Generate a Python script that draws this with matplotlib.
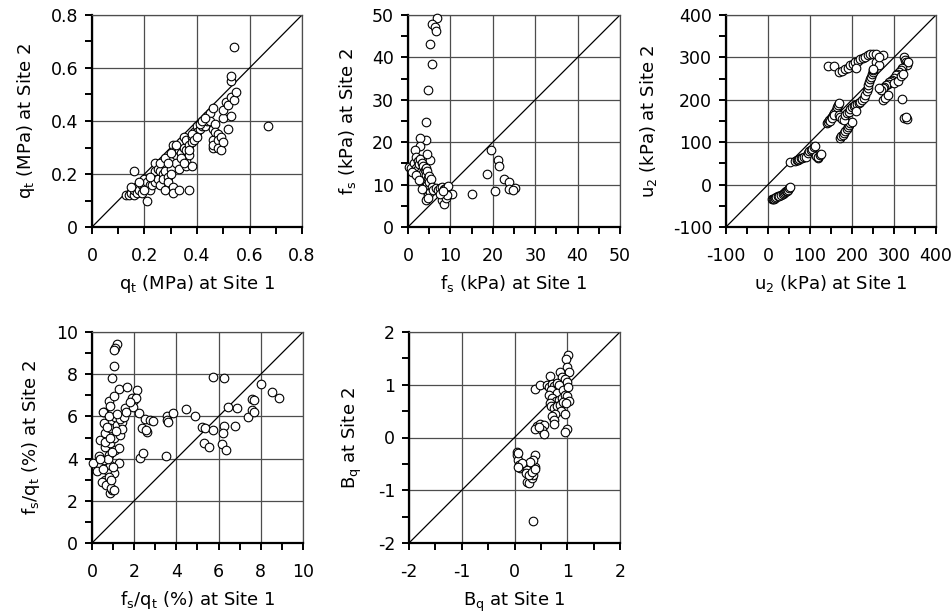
import matplotlib
matplotlib.use("Agg")
import matplotlib.pyplot as plt
from matplotlib.ticker import MultipleLocator
import numpy as np

plt.rcParams['font.family'] = ['DejaVu Sans']
plt.rcParams['mathtext.fontset'] = 'dejavusans'

# ---------------- data ----------------
qt_site1 = [0.13,0.14,0.15,0.16,0.16,0.17,0.17,0.18,0.19,0.19,0.20,0.20,0.21,0.21,0.22,0.22,0.23,0.23,0.24,0.24,0.24,0.25,0.25,0.26,0.26,0.27,0.27,0.28,0.28,0.29,0.29,0.30,0.30,0.30,0.31,0.31,0.31,0.31,0.32,0.32,0.32,0.33,0.33,0.33,0.34,0.34,0.35,0.35,0.35,0.36,0.36,0.36,0.36,0.37,0.37,0.37,0.38,0.38,0.38,0.39,0.39,0.40,0.40,0.41,0.42,0.43,0.44,0.44,0.45,0.45,0.46,0.46,0.46,0.46,0.46,0.47,0.47,0.48,0.48,0.48,0.49,0.49,0.50,0.50,0.50,0.51,0.52,0.52,0.53,0.53,0.53,0.53,0.54,0.55,0.54,0.67,0.16,0.15,0.18,0.20,0.22,0.26,0.28,0.29,0.30,0.32,0.34,0.35,0.37,0.38,0.39,0.40,0.41,0.42,0.43]
qt_site2 = [0.12,0.12,0.13,0.12,0.14,0.15,0.13,0.14,0.16,0.13,0.18,0.15,0.10,0.17,0.16,0.14,0.19,0.16,0.24,0.21,0.17,0.22,0.18,0.21,0.16,0.20,0.18,0.21,0.14,0.19,0.17,0.26,0.22,0.20,0.31,0.28,0.15,0.13,0.30,0.27,0.24,0.29,0.22,0.14,0.32,0.28,0.34,0.30,0.26,0.33,0.29,0.25,0.23,0.31,0.27,0.14,0.34,0.32,0.23,0.36,0.35,0.38,0.36,0.37,0.38,0.38,0.40,0.42,0.43,0.40,0.45,0.37,0.33,0.30,0.31,0.39,0.36,0.35,0.33,0.30,0.29,0.34,0.41,0.32,0.44,0.47,0.46,0.37,0.42,0.49,0.55,0.57,0.48,0.51,0.68,0.38,0.21,0.15,0.17,0.14,0.19,0.24,0.26,0.24,0.28,0.31,0.26,0.24,0.29,0.35,0.33,0.34,0.39,0.40,0.41]

fs_site1 = [6.8,5.6,6.3,6.5,5.3,5.7,4.7,4.3,4.3,2.9,2.8,1.7,19.5,21.3,21.5,18.7,22.6,23.9,25.2,23.8,24.8,20.5,15.0,10.3,0.3,0.8,
            1.5,1.8,2.0,2.2,2.3,2.5,2.6,2.8,3.0,3.0,3.2,3.3,3.5,3.5,3.6,3.8,3.9,4.0,4.1,4.2,4.3,4.4,4.5,4.5,4.6,4.7,4.8,5.0,5.0,5.2,5.3,5.5,5.7,6.0,4.4,4.3,4.6,6.5,7.0,7.5,8.0,8.5,9.0,9.5,8.0,8.5,9.0,9.3,7.6,8.2,1.0,2.0,2.7,3.4]
fs_site2 = [49.4,47.9,47.1,46.2,43.1,38.5,32.4,24.8,20.5,20.9,19.1,18.2,18.2,15.8,14.5,12.4,11.4,10.5,9.1,9.0,8.7,8.6,7.9,7.9,14.2,13.8,
            15.0,14.0,16.5,13.5,15.5,12.5,14.8,16.0,13.0,11.5,15.0,10.5,12.8,14.5,9.8,11.2,13.5,9.2,10.8,12.2,14.0,8.5,10.0,13.2,11.5,7.5,9.0,12.0,10.5,15.7,8.3,11.4,9.5,8.8,17.3,6.3,6.8,9.2,8.7,9.3,9.5,9.0,9.2,9.6,6.3,5.5,6.8,7.6,7.8,8.4,13.0,12.2,11.0,9.0]

u2_site1 = [10,13,15,17,20,23,27,30,35,38,40,42,45,47,50,53,
            53,65,68,72,75,78,82,86,90,95,98,102,105,110,112,115,118,120,124,126,
            140,143,146,149,152,155,158,161,164,167,170,148,153,157,
            172,175,178,181,184,187,190,193,196,200,168,172,176,180,184,188,192,196,200,204,208,212,216,220,224,228,232,235,237,239,241,243,245,247,249,251,210,
            143,158,169,176,183,190,196,202,208,214,220,226,232,238,244,250,257,274,210,257,264,249,265,
            324,326,328,330,332,334,320,316,312,308,304,300,296,292,289,285,281,277,273,270,273,279,285,319,324,332,328,265,300,310,316,322]
u2_site2 = [-35,-33,-34,-31,-30,-28,-27,-25,-22,-20,-18,-16,-15,-13,-9,-5,
            53,55,57,58,60,62,63,66,66,75,80,82,85,88,90,68,62,65,70,73,
            145,148,152,156,160,165,170,176,182,188,193,150,158,163,
            110,114,118,122,126,130,135,140,145,148,164,160,155,152,165,168,172,178,183,185,188,190,192,195,200,205,212,220,228,235,242,248,254,260,265,270,173,
            280,280,265,268,272,276,281,285,289,292,296,299,302,305,307,309,308,305,276,290,282,272,300,
            300,295,290,285,282,288,274,270,266,262,258,252,246,244,242,238,235,231,227,222,199,205,211,202,158,154,160,227,240,245,255,262]

rf_site1 = [1.18,1.1,1.02,1.05,0.96,1.26,1.65,2.13,5.75,6.25,8.0,8.54,8.87,7.6,7.68,2.0,1.9,2.1,1.57,1.94,2.25,0.55,0.79,0.87,6.46,6.88,4.44,4.88,3.57,3.83,3.57,3.6,7.4,7.6,7.7,2.49,2.76,2.91,2.36,2.6,2.57,5.2,5.36,5.75,6.24,6.2,6.8,5.3,5.55,6.15,6.35,3.5,2.28,2.44,
            0.05,0.31,0.39,0.52,1.02,0.87,0.94,0.79,0.63,0.47,0.24,1.02,0.71,1.26,0.87,0.55,0.79,1.1,1.26,0.63,0.87,1.02,1.34,0.63,0.87,1.18,1.42,0.55,1.1,1.34,1.5,0.79,0.68,0.9,0.75,0.95,0.6,0.7,0.8,1.2,1.0,0.5,0.4,1.4,1.6,1.8,0.9,1.05,0.85,1.15]
rf_site2 = [9.42,9.26,9.13,8.41,7.84,7.28,7.37,7.24,7.87,7.84,7.53,7.15,6.85,6.82,6.77,6.8,6.85,6.85,6.38,6.43,6.17,6.2,6.74,6.5,6.46,6.41,6.33,6.02,6.02,6.17,5.83,5.75,5.95,6.3,6.19,5.86,5.83,5.8,5.43,5.28,5.35,5.51,5.46,5.35,5.56,5.23,5.53,4.76,4.54,4.69,4.41,4.1,4.05,4.25,
            3.78,4.1,4.88,6.22,6.96,2.36,2.52,2.83,2.99,2.91,3.39,3.31,3.46,3.78,3.7,3.94,4.17,4.41,4.49,4.57,4.72,4.96,5.12,5.2,5.43,5.59,5.75,5.67,5.98,5.9,5.98,3.15,2.76,2.6,4.0,4.3,4.8,5.5,6.0,6.1,3.6,3.5,4.0,5.4,6.2,6.7,3.0,2.5,5.0,5.3]

bq_site1 = [1.01,0.97,0.99,1.03,0.86,0.9,0.68,0.95,1.0,0.39,0.49,0.61,0.66,0.71,0.75,0.8,0.85,0.7,0.8,0.92,1.02,0.65,0.72,0.78,0.85,0.9,0.95,1.0,1.04,0.67,0.7,0.74,0.8,0.86,0.92,0.98,0.88,0.76,0.72,0.96,0.74,0.74,0.99,0.96,
            0.43,0.49,0.55,0.39,0.52,0.55,0.46,
            0.04,0.05,0.06,0.08,0.11,0.18,0.24,0.21,0.24,0.27,0.33,0.36,0.38,0.39,0.36,0.3,0.14,0.27,0.33,0.35,0.07,0.06,0.38]
bq_site2 = [1.57,1.48,1.33,1.25,1.24,1.15,1.16,1.1,1.05,0.92,0.99,1.0,0.95,1.02,0.98,1.03,1.0,0.9,0.85,0.9,0.95,0.8,0.75,0.7,0.72,0.75,0.8,0.78,0.7,0.65,0.6,0.55,0.6,0.62,0.68,0.65,0.5,0.45,0.4,0.45,0.33,0.26,0.17,0.11,
            0.21,0.26,0.23,0.17,0.14,0.06,0.19,
            -0.27,-0.33,-0.43,-0.52,-0.58,-0.55,-0.62,-0.68,-0.84,-0.87,-0.77,-0.71,-0.55,-0.33,-0.43,-0.46,-0.49,-0.71,-0.65,-1.58,-0.3,-0.55,-0.6]

panels = [
    dict(x=qt_site1, y=qt_site2, lim=(0, 0.8), major=0.2, minor=0.1,
         ticks=['0', '0.2', '0.4', '0.6', '0.8'],
         xl=r'q$_\mathrm{t}$ (MPa) at Site 1', yl=r'q$_\mathrm{t}$ (MPa) at Site 2'),
    dict(x=fs_site1, y=fs_site2, lim=(0, 50), major=10, minor=5,
         ticks=['0', '10', '20', '30', '40', '50'],
         xl=r'f$_\mathrm{s}$ (kPa) at Site 1', yl=r'f$_\mathrm{s}$ (kPa) at Site 2'),
    dict(x=u2_site1, y=u2_site2, lim=(-100, 400), major=100, minor=50,
         ticks=['-100', '0', '100', '200', '300', '400'],
         xl=r'u$_\mathrm{2}$ (kPa) at Site 1', yl=r'u$_\mathrm{2}$ (kPa) at Site 2'),
    dict(x=rf_site1, y=rf_site2, lim=(0, 10), major=2, minor=1,
         ticks=['0', '2', '4', '6', '8', '10'],
         xl=r'f$_\mathrm{s}$/q$_\mathrm{t}$ (%) at Site 1', yl=r'f$_\mathrm{s}$/q$_\mathrm{t}$ (%) at Site 2'),
    dict(x=bq_site1, y=bq_site2, lim=(-2, 2), major=1, minor=0.5,
         ticks=['-2', '-1', '0', '1', '2'],
         xl=r'B$_\mathrm{q}$ at Site 1', yl=r'B$_\mathrm{q}$ at Site 2'),
]

W, H = 953, 615
boxes = [(92, 15, 302, 227), (408, 15, 620, 227), (726, 15, 936, 227),
         (92, 332, 303, 543), (409, 332, 620, 543)]

fig = plt.figure(figsize=(W / 100, H / 100), dpi=100)
for p, (x0, y0, x1, y1) in zip(panels, boxes):
    ax = fig.add_axes([x0 / W, (H - y1) / H, (x1 - x0) / W, (y1 - y0) / H])
    lo, hi = p['lim']
    ax.set_xlim(lo, hi)
    ax.set_ylim(lo, hi)
    ax.xaxis.set_minor_locator(MultipleLocator(p['minor']))
    ax.yaxis.set_minor_locator(MultipleLocator(p['minor']))
    tv = np.arange(lo, hi + p['major'] / 2, p['major'])
    ax.set_xticks(tv)
    ax.set_yticks(tv)
    ax.set_xticklabels(p['ticks'])
    ax.set_yticklabels(p['ticks'])
    ax.grid(True, which='major', color='0.3', lw=0.9)
    ax.set_axisbelow(True)
    ax.plot([lo, hi], [lo, hi], color='black', lw=0.9, zorder=2)
    ax.plot(p['x'], p['y'], 'o', mfc='white', mec='black', mew=0.8, ms=6.2,
            zorder=3, clip_on=False)
    ax.tick_params(which='both', direction='out', length=5, width=1.4,
                   labelsize=12.5, top=False, right=False)
    ax.tick_params(axis='x', which='major', pad=9.5)
    ax.tick_params(axis='y', which='major', pad=5)
    for s in ['left', 'bottom']:
        ax.spines[s].set_linewidth(1.6)
    for s in ['top', 'right']:
        ax.spines[s].set_linewidth(0.9)
        ax.spines[s].set_color('0.3')
    ax.set_xlabel(p['xl'], fontsize=13, labelpad=6)
    ax.set_ylabel(p['yl'], fontsize=13, labelpad=10)

fig.savefig('out.png', dpi=100)
